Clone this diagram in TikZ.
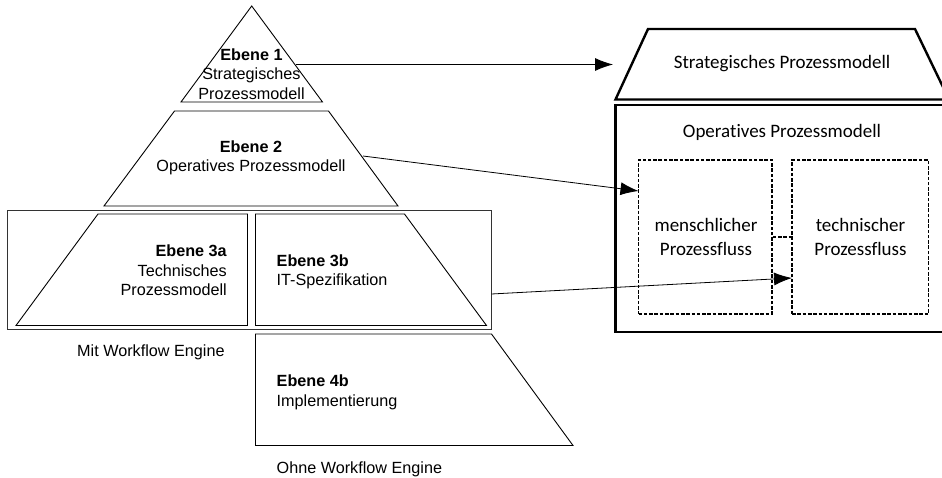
\documentclass[tikz,border=0pt]{standalone}
\usepackage{fontspec}
\setmainfont{Liberation Sans}
\newfontfamily\calib[Ligatures=NoCommon]{Carlito}
\usetikzlibrary{arrows.meta}
\tikzset{
  x=1pt,y=-1pt,
  thinshape/.style={draw=black,line width=0.9pt,line join=miter},
  framebox/.style={draw=black!80,line width=0.9pt},
  boldshape/.style={draw=black,line width=2.4pt,line join=miter},
  flowbox/.style={draw=black,line width=1.4pt,dash pattern=on 3.6pt off 1.7pt},
  conn/.style={draw=black,line width=0.8pt,-{Latex[length=18pt,width=13pt,sharp]}},
  lbl/.style={inner sep=0pt,align=center,font=\fontsize{16.2}{19.6}\selectfont},
  lbll/.style={lbl,align=left},
  lblr/.style={lbl,align=right},
  rlbl/.style={inner sep=0pt,align=center,font=\calib\fontsize{19}{23.5}\selectfont}
}
\begin{document}
\begin{tikzpicture}
\useasboundingbox (0,0) rectangle (942,478);
\clip (0,0) rectangle (942,478);
% left pyramid
\draw[framebox] (7.5,210) rectangle (491.5,329);
\draw[thinshape] (251.7,6) -- (322.5,102) -- (181,102) -- cycle;
\coordinate (p1) at (296,64.5);
\draw[thinshape] (174.5,111) -- (328.5,111) -- (398,206) -- (104,206) -- cycle;
\coordinate (p2) at (363,156);
\draw[thinshape] (98,214) -- (247.5,214) -- (247.5,325.5) -- (16,325.5) -- cycle;
\draw[thinshape] (255.5,214) -- (404.5,214) -- (486.5,325.5) -- (255.5,325.5) -- cycle;
\coordinate (p3) at (491.5,294);
\draw[thinshape] (255.5,334) -- (491.5,334) -- (573,445.5) -- (255.5,445.5) -- cycle;
\node[lbl] (t1) at (251.5,74) {\textbf{Ebene 1}\\Strategisches\\Prozessmodell};
\node[lbl] (t2) at (251,158) {\textbf{Ebene 2}\\Operatives Prozessmodell};
\node[lblr,anchor=north east] (t3a) at (227,244.5) {\textbf{Ebene 3a}\\Technisches\\Prozessmodell};
\node[lbll,anchor=north west] (t3b) at (276.5,254.3) {\textbf{Ebene 3b}\\IT-Spezifikation};
\node[lbll,anchor=north west] (t4b) at (276.5,374.5) {\textbf{Ebene 4b}\\Implementierung};
\node[lbl,anchor=west] (mw) at (77,352) {Mit Workflow Engine};
\node[lbl,anchor=west] (ow) at (276.5,469) {Ohne Workflow Engine};
% right house
\draw[boldshape] (648,29) -- (915,29) -- (949,99.5) -- (615.5,99.5) -- cycle;
\draw[boldshape] (615.5,105) rectangle (950,332);
\coordinate (q1) at (613,64.5);
\node[rlbl] (rs) at (782,64) {Strategisches Prozessmodell};
\node[rlbl] (ro) at (782,132) {Operatives Prozessmodell};
\node[flowbox,minimum width=133.5pt,minimum height=154pt,inner sep=0pt] (mf) at (705.25,237) {};
\node[flowbox,minimum width=136.5pt,minimum height=154pt,inner sep=0pt] (tf) at (860.25,237) {};
\node[rlbl] at (706,237) {menschlicher\\Prozessfluss};
\node[rlbl] at (860.5,237) {technischer\\Prozessfluss};
\draw[flowbox] (mf.east) -- (tf.west);
\coordinate (q2) at (638.5,191);
\coordinate (q3) at (792,278);
\draw[conn] (p1) -- (q1);
\draw[conn] (p2) -- (q2);
\draw[conn] (p3) -- (q3);
\end{tikzpicture}
\end{document}
